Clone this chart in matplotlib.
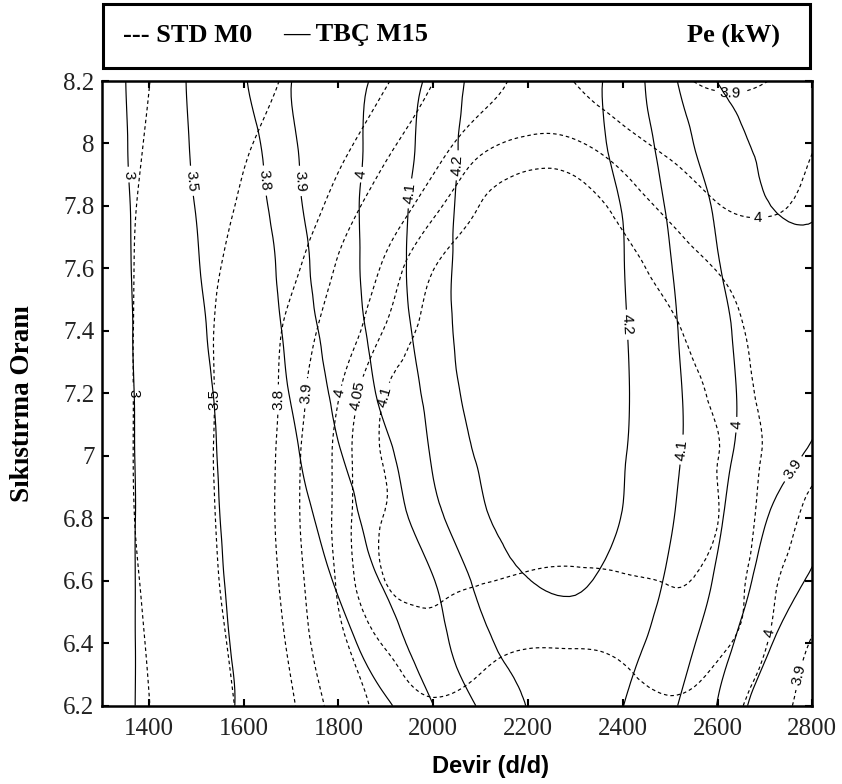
import numpy as np
import matplotlib
matplotlib.use('Agg')
import matplotlib.pyplot as plt
import matplotlib.tri as mtri
from matplotlib.patches import Rectangle
from matplotlib.ticker import FormatStrFormatter

# devir (d/d) : colonnes de la grille
devir = [1300, 1400, 1500, 1600, 1700, 1800, 1900, 2000,
         2100, 2200, 2300, 2400, 2500, 2600, 2700, 2800]
# sikistirma orani : lignes de la grille (de haut en bas)
oran = [8.2, 8.0, 7.8, 7.6, 7.4, 7.2, 7.0, 6.8, 6.6, 6.4, 6.2]

# Pe (kW), moteur TBC M15 (traits pleins)
pe_tbc = [
    [2.78, 3.205, 3.568, 3.789, 3.899, 3.959, 4.028, 4.124, 4.23, 4.24, 4.23, 4.16, 4.022, 3.898, 3.86, 3.82],
    [2.776, 3.183, 3.545, 3.747, 3.886, 3.962, 4.042, 4.142, 4.235, 4.245, 4.235, 4.17, 4.059, 3.948, 3.885, 3.87],
    [2.788, 3.153, 3.51, 3.716, 3.872, 3.964, 4.053, 4.154, 4.24, 4.25, 4.245, 4.196, 4.087, 3.986, 3.905, 3.895],
    [2.79, 3.134, 3.479, 3.684, 3.85, 3.957, 4.056, 4.159, 4.245, 4.255, 4.25, 4.203, 4.105, 4.005, 3.95, 3.915],
    [2.79, 3.118, 3.444, 3.658, 3.83, 3.942, 4.044, 4.152, 4.245, 4.26, 4.255, 4.208, 4.117, 4.023, 3.96, 3.925],
    [2.79, 3.103, 3.416, 3.631, 3.807, 3.92, 4.022, 4.131, 4.24, 4.255, 4.25, 4.21, 4.125, 4.032, 3.96, 3.912],
    [2.79, 3.093, 3.395, 3.608, 3.773, 3.893, 3.979, 4.11, 4.21, 4.245, 4.24, 4.205, 4.122, 4.028, 3.946, 3.89],
    [2.79, 3.089, 3.385, 3.589, 3.736, 3.857, 3.951, 4.067, 4.185, 4.23, 4.23, 4.197, 4.108, 4.013, 3.905, 3.83],
    [2.8, 3.085, 3.369, 3.568, 3.693, 3.815, 3.91, 3.996, 4.127, 4.198, 4.21, 4.165, 4.087, 3.987, 3.869, 3.79],
    [2.81, 3.078, 3.347, 3.545, 3.651, 3.756, 3.862, 3.959, 4.075, 4.14, 4.16, 4.13, 4.055, 3.944, 3.818, 3.72],
    [2.82, 3.074, 3.329, 3.528, 3.614, 3.7, 3.786, 3.899, 4.011, 4.103, 4.12, 4.101, 4.017, 3.897, 3.748, 3.65],
]

# Pe (kW), moteur STD M0 (pointilles)
pe_std = [
    [2.81, 2.996, 3.183, 3.369, 3.538, 3.664, 3.79, 3.899, 3.96, 4.02, 3.998, 3.958, 3.919, 3.885, 3.898, 3.93],
    [2.807, 3.026, 3.246, 3.465, 3.618, 3.758, 3.877, 3.966, 4.035, 4.06, 4.055, 4.02, 3.985, 3.96, 3.955, 3.995],
    [2.818, 3.064, 3.31, 3.537, 3.697, 3.844, 3.95, 4.035, 4.102, 4.14, 4.13, 4.082, 4.037, 4.002, 3.993, 4.01],
    [2.807, 3.091, 3.375, 3.597, 3.769, 3.911, 4.013, 4.099, 4.12, 4.13, 4.13, 4.115, 4.081, 4.048, 4.03, 4.025],
    [2.8, 3.102, 3.404, 3.644, 3.831, 3.949, 4.056, 4.112, 4.125, 4.135, 4.135, 4.125, 4.108, 4.071, 4.04, 4.03],
    [2.8, 3.102, 3.401, 3.647, 3.849, 3.996, 4.101, 4.115, 4.125, 4.13, 4.13, 4.125, 4.115, 4.09, 4.04, 4.025],
    [2.8, 3.102, 3.404, 3.653, 3.864, 4.017, 4.105, 4.115, 4.12, 4.125, 4.125, 4.12, 4.11, 4.101, 4.045, 4.012],
    [2.795, 3.092, 3.39, 3.651, 3.867, 4.018, 4.103, 4.11, 4.115, 4.115, 4.115, 4.113, 4.108, 4.101, 4.035, 3.99],
    [2.758, 3.061, 3.364, 3.634, 3.851, 4.009, 4.101, 4.11, 4.102, 4.095, 4.093, 4.097, 4.101, 4.085, 4.02, 3.96],
    [2.728, 3.024, 3.32, 3.595, 3.824, 3.981, 4.055, 4.08, 4.065, 4.053, 4.053, 4.06, 4.075, 4.06, 4.005, 3.89],
    [2.71, 2.994, 3.278, 3.551, 3.782, 3.938, 4.022, 4.046, 4.04, 4.035, 4.035, 4.04, 4.046, 4.031, 3.962, 3.85],
]

niveaux_tbc = [3, 3.5, 3.8, 3.9, 4, 4.1, 4.2]
niveaux_std = [3, 3.5, 3.8, 3.9, 4, 4.05, 4.1]

# positions approximatives des etiquettes (comme sur la figure)
etiq_tbc = [(1352, 7.9), (1487, 7.88), (1636, 7.88), (1718, 7.88), (1849, 7.9),
            (1951, 7.84), (2050, 7.93), (2413, 7.42), (2524, 7.02), (2636, 7.1),
            (2748, 6.97)]
etiq_std = [(1367, 7.2), (1535, 7.18), (1678, 7.18), (1733, 7.2), (1803, 7.2),
            (1849, 7.19), (1894, 7.19), (2626, 8.15), (2685, 7.755), (2717, 6.43),
            (2766, 6.3)]


def surface_lisse(z):
    # triangulation en coordonnees normalisees (pas de grille = 1), puis
    # raffinement cubique de matplotlib pour avoir des courbes lisses
    X = np.array(devir, dtype=float)
    Y = np.array(oran, dtype=float)[::-1]
    u, v = np.meshgrid((X - X[0]) / 100.0, (Y - Y[0]) / 0.2)
    tri = mtri.Triangulation(u.ravel(), v.ravel())
    zz = np.flipud(np.array(z)).ravel()
    interp = mtri.CubicTriInterpolator(tri, zz, kind='min_E')
    ref = mtri.UniformTriRefiner(tri)
    tri_r, z_r = ref.refine_field(zz, interp, subdiv=3)
    tri_d = mtri.Triangulation(tri_r.x * 100.0 + X[0], tri_r.y * 0.2 + Y[0], tri_r.triangles)
    return tri_d, z_r


W, H = 842, 784
fig = plt.figure(figsize=(W / 100, H / 100), dpi=100)
ax = fig.add_axes([101.5 / W, 1 - 705.7 / H, (812.3 - 101.5) / W, (705.7 - 81) / H])

t_std, z_std = surface_lisse(pe_std)
t_tbc, z_tbc = surface_lisse(pe_tbc)

cs1 = ax.tricontour(t_std, z_std, levels=niveaux_std, colors='black', linewidths=0.85)
cs1.set_linestyle((0, (3, 2.5)))
cs2 = ax.tricontour(t_tbc, z_tbc, levels=niveaux_tbc, colors='black', linewidths=0.85)

for cs, pos in [(cs1, etiq_std), (cs2, etiq_tbc)]:
    txts = ax.clabel(cs, cs.levels, manual=pos, inline=True, inline_spacing=3,
                     fmt='%g', fontsize=11)
    for t in txts:
        t.set_family('Liberation Sans')

ax.set_xlim(1300, 2800)
ax.set_ylim(6.2, 8.2)
ax.set_xticks(np.arange(1400, 2801, 200))
ax.set_yticks(np.arange(6.2, 8.21, 0.2))
ax.yaxis.set_major_formatter(FormatStrFormatter('%g'))
ax.tick_params(direction='in', length=5, width=1.5, top=True, right=True,
               labelsize=18, colors='black', labelcolor='#222222')
ax.tick_params(axis='y', pad=5)
ax.tick_params(axis='x', pad=9)
for lab in ax.get_xticklabels() + ax.get_yticklabels():
    lab.set_family('Liberation Serif')
for sp in ax.spines.values():
    sp.set_linewidth(1.8)

fig.text(23 / W, 1 - 404 / H, 'Sıkıstırma Oranı', rotation=90, fontsize=19.5,
         fontweight='bold', family='Liberation Serif', ha='center', va='center')
fig.text(490 / W, 1 - 767 / H, 'Devir (d/d)', fontsize=17, fontweight='bold',
         family=['Liberation Sans Narrow', 'Liberation Sans'], ha='center', va='center')

# cadre de legende en haut
fig.add_artist(Rectangle((102.7 / W, 1 - 68 / H), (810 - 102.7) / W, 64 / H,
                         transform=fig.transFigure, fill=False, lw=2.2, ec='black'))
fig.text(122.7 / W, 1 - 35 / H, '--- STD M0', fontsize=19, fontweight='bold',
         family='Liberation Serif', va='center')
fig.text(283 / W, 1 - 35 / H, '\u2014 TBÇ M15', fontsize=19, fontweight='bold',
         family='Liberation Serif', va='center')
fig.text(780 / W, 1 - 35 / H, 'Pe (kW)', fontsize=19, fontweight='bold',
         family='Liberation Serif', va='center', ha='right')

fig.savefig('out.png', dpi=100)
